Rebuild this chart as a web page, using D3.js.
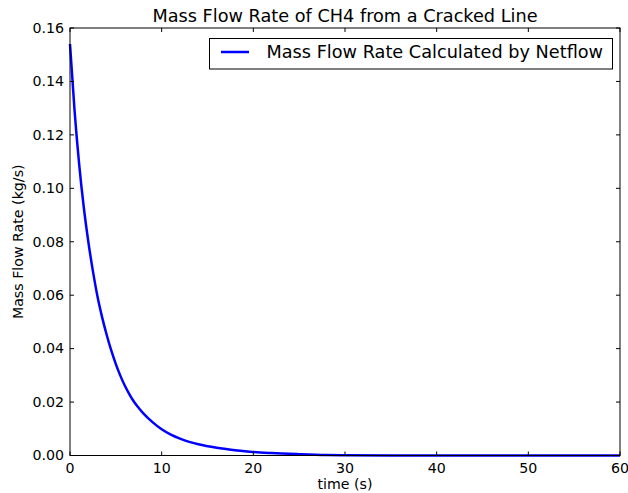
<!DOCTYPE html>
<html><head><meta charset="utf-8">
<script src="https://cdn.jsdelivr.net/npm/d3@7"></script>
<style>body{margin:0;background:#fff}text{font-family:"DejaVu Sans",sans-serif;fill:#000}</style>
</head><body>
<svg id="c" width="628" height="493"></svg>
<script>
const timeS = [0,0.5,1,1.5,2,2.5,3,3.5,4,4.5,5,5.5,6,6.5,7,7.5,8,9,10,11,12,13,14,16,18,20,22,25,28,30,35,40,45,50,55,60];
const flowKgS = [0.154,0.129,0.109,0.093,0.080,0.069,0.0595,0.0518,0.0452,0.0393,0.0342,0.0298,0.026,0.0228,0.020,0.0178,0.0158,0.0125,0.0098,0.0078,0.0063,0.0051,0.0042,0.0029,0.0020,0.0013,0.0009,0.0005,0.0002,0.00012,0.00004,0.00001,0,0,0,0];
const xTicks = [0,10,20,30,40,50,60];
const yTicks = [0,0.02,0.04,0.06,0.08,0.10,0.12,0.14,0.16];
const titleText = "Mass Flow Rate of CH4 from a Cracked Line";
const seriesName = "Mass Flow Rate Calculated by Netflow";
const xLabel = "time (s)";
const yLabel = "Mass Flow Rate (kg/s)";

const svg = d3.select("#c");
const L=70,R=620,T=28,B=455.5;
const x = d3.scaleLinear().domain([0,60]).range([L,R]);
const y = d3.scaleLinear().domain([0,0.16]).range([B,T]);
const fs=14.2, fl=17.7, tl=4;

const data = timeS.map((t,i)=>[t,flowKgS[i]]);
svg.append("path").datum(data)
  .attr("d", d3.line().x(d=>x(d[0])).y(d=>y(d[1])).curve(d3.curveMonotoneX))
  .attr("fill","none").attr("stroke","#0000ff").attr("stroke-width",2.5);

svg.append("rect").attr("x",L).attr("y",T).attr("width",R-L).attr("height",B-T)
  .attr("fill","none").attr("stroke","#000").attr("stroke-width",1);

const g = svg.append("g");
xTicks.forEach(v=>{
  const px=x(v);
  g.append("line").attr("x1",px).attr("x2",px).attr("y1",B).attr("y2",B-tl).attr("stroke","#000");
  g.append("line").attr("x1",px).attr("x2",px).attr("y1",T).attr("y2",T+tl).attr("stroke","#000");
  g.append("text").attr("x",px).attr("y",B+17).attr("text-anchor","middle").attr("font-size",fs).text(d3.format("d")(v));
});
yTicks.forEach(v=>{
  const py=y(v);
  g.append("line").attr("x1",L).attr("x2",L+tl).attr("y1",py).attr("y2",py).attr("stroke","#000");
  g.append("line").attr("x1",R).attr("x2",R-tl).attr("y1",py).attr("y2",py).attr("stroke","#000");
  g.append("text").attr("x",L-6).attr("y",py+4.8).attr("text-anchor","end").attr("font-size",fs).text(d3.format(".2f")(v));
});

svg.append("text").attr("x",(L+R)/2).attr("y",22).attr("text-anchor","middle").attr("font-size",fl).text(titleText);
svg.append("text").attr("x",(L+R)/2).attr("y",489).attr("text-anchor","middle").attr("font-size",fs).text(xLabel);
svg.append("text").attr("transform",`translate(23,${(T+B)/2}) rotate(-90)`).attr("text-anchor","middle").attr("font-size",fs).text(yLabel);

const lg = svg.append("g");
lg.append("rect").attr("x",209.5).attr("y",38.5).attr("width",403).attr("height",30.5).attr("fill","#fff").attr("stroke","#000");
lg.append("line").attr("x1",221).attr("x2",249).attr("y1",52).attr("y2",52).attr("stroke","#0000ff").attr("stroke-width",2.5);
lg.append("text").attr("x",266.5).attr("y",58).attr("font-size",fl).text(seriesName);
</script>
</body></html>
